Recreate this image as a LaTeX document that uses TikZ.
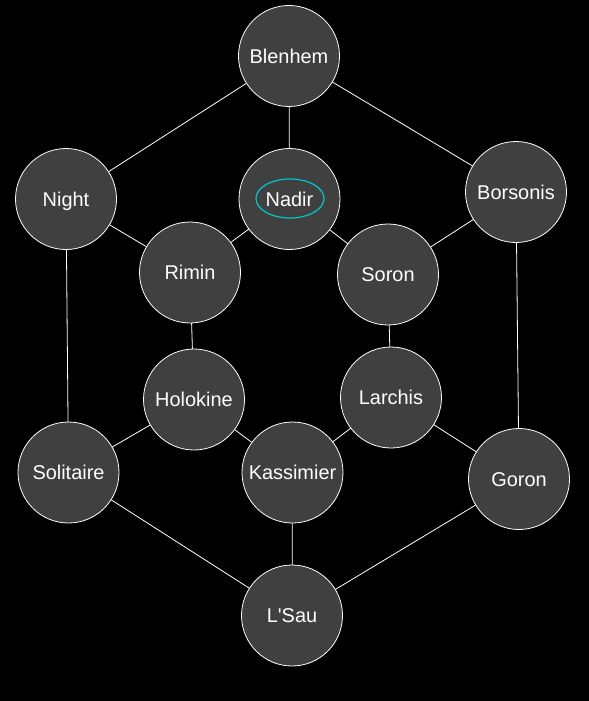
\documentclass[tikz,border=0pt]{standalone}
\usepackage{fontspec}
\setmainfont{Liberation Sans}[Ligatures=TeXOff]
\definecolor{stone}{RGB}{64,64,64}
\definecolor{ring}{RGB}{0,200,200}
\begin{document}
\begin{tikzpicture}[x=1bp, y=-1bp, line join=round, line cap=round,
	city/.style={circle, draw=white, line width=0.8bp, fill=stone, minimum size=101bp, inner sep=0pt,
		text=white, font=\fontsize{20}{22}\selectfont, text height=16bp, text depth=1.7bp},
	road/.style={white, line width=0.8bp}]
			\fill[black] (0,0) rectangle (589,701);
			% cities
			\node[city] (blenhem) at (289,56) {Blenhem};
			\node[city] (night) at (66,199) {Night};
			\node[city] (nadir) at (289.5,199) {Nadir};
			\node[city] (borsonis) at (516,192) {Borsonis};
			\node[city] (rimin) at (190,272.5) {Rimin};
			\node[city] (soron) at (388,274.5) {Soron};
			\node[city] (holokine) at (194,399.5) {Holokine};
			\node[city] (larchis) at (391,397.5) {Larchis};
			\node[city] (solitaire) at (68.5,472.5) {Solitaire};
			\node[city] (kassimier) at (292.5,472.5) {Kassimier};
			\node[city] (goron) at (519,479) {Goron};
			\node[city] (lsau) at (292,615.5) {L'Sau};
			% roads
			\draw[road] (blenhem) -- (night) (blenhem) -- (nadir) (blenhem) -- (borsonis);
			\draw[road] (night) -- (rimin) (nadir) -- (rimin) (nadir) -- (soron) (borsonis) -- (soron);
			\draw[road] (night) -- (solitaire) (borsonis) -- (goron);
			\draw[road] (rimin) -- (holokine) (soron) -- (larchis);
			\draw[road] (holokine) -- (solitaire) (holokine) -- (kassimier) (larchis) -- (kassimier) (larchis) -- (goron);
			\draw[road] (solitaire) -- (lsau) (kassimier) -- (lsau) (goron) -- (lsau);
			\draw[ring, line width=1.2bp] (290,198.5) ellipse [x radius=34, y radius=19.5];
		\end{tikzpicture}
\end{document}
